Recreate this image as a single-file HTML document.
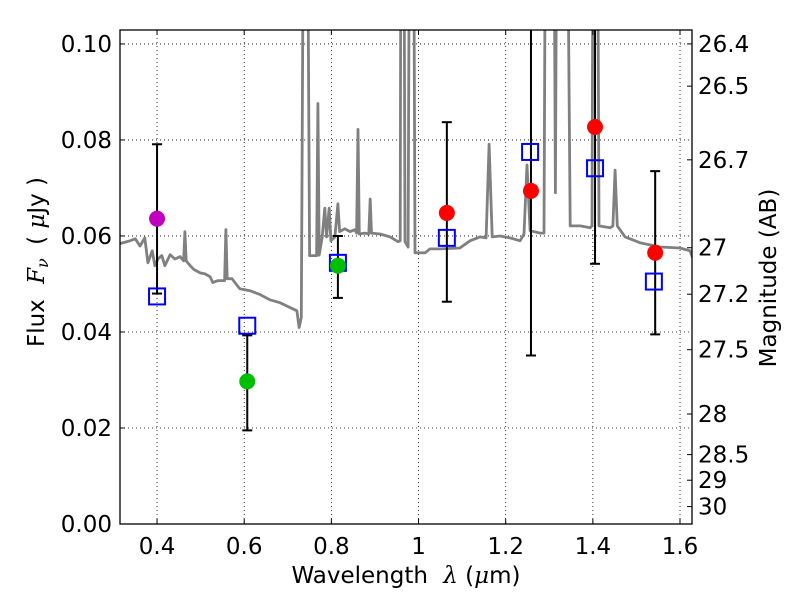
<!DOCTYPE html>
<html><head><meta charset="utf-8"><style>
html,body{margin:0;padding:0;background:#fff;}
svg text{font-family:"DejaVu Sans","Liberation Sans",sans-serif;fill:#000;}
</style></head><body>
<svg id="chart" width="800" height="600" xmlns="http://www.w3.org/2000/svg"></svg>
<script>
// ---- data ----
const specLambda=[0.315,0.338,0.350,0.361,0.372,0.379,0.389,0.395,0.402,0.411,0.418,0.430,0.441,0.453,0.461,0.464,0.467,0.476,0.485,0.499,0.510,0.522,0.528,0.540,0.549,0.555,0.558,0.561,0.572,0.590,0.613,0.636,0.659,0.682,0.705,0.721,0.726,0.731,0.737,0.744,0.750,0.763,0.766,0.769,0.772,0.779,0.785,0.789,0.795,0.799,0.808,0.815,0.819,0.831,0.843,0.854,0.858,0.861,0.864,0.877,0.886,0.889,0.892,0.912,0.935,0.953,0.958,0.960,0.966,0.969,0.976,0.980,0.988,0.992,0.999,1.015,1.026,1.049,1.095,1.118,1.141,1.155,1.162,1.169,1.187,1.210,1.233,1.242,1.249,1.256,1.279,1.288,1.292,1.310,1.314,1.318,1.340,1.348,1.371,1.394,1.398,1.401,1.410,1.414,1.440,1.446,1.451,1.456,1.474,1.508,1.554,1.600,1.623,1.630];
const specFlux=[0.0584,0.0590,0.0594,0.0579,0.0596,0.0544,0.0569,0.0538,0.0552,0.0559,0.0538,0.0561,0.0552,0.0557,0.0548,0.0609,0.0548,0.0538,0.0530,0.0523,0.0521,0.0515,0.0503,0.0507,0.0507,0.0507,0.0613,0.0511,0.0511,0.0490,0.0486,0.0478,0.0467,0.0461,0.0451,0.0444,0.0409,0.0430,0.15,0.15,0.0559,0.0559,0.0559,0.0876,0.0560,0.0598,0.0658,0.0598,0.0658,0.0590,0.0598,0.0667,0.0609,0.0615,0.0609,0.0613,0.0606,0.0822,0.0604,0.0606,0.0604,0.0677,0.0606,0.0604,0.0598,0.0588,0.0590,0.15,0.15,0.0588,0.0577,0.15,0.15,0.0565,0.0565,0.0565,0.0573,0.0573,0.0575,0.0590,0.0598,0.0596,0.0791,0.0598,0.0600,0.0596,0.0590,0.0604,0.0748,0.0611,0.0606,0.0606,0.15,0.15,0.0690,0.15,0.15,0.0621,0.0621,0.0617,0.0621,0.15,0.15,0.0621,0.0617,0.0621,0.0737,0.0621,0.0598,0.0586,0.0577,0.0575,0.0569,0.0552];
const photLambda=[0.400,0.607,0.815,1.065,1.258,1.405,1.543];
const photFlux=[0.0636,0.0297,0.0538,0.0648,0.0694,0.0827,0.0565];
const photLo=[0.0480,0.0195,0.0471,0.0463,0.0351,0.0542,0.0395];
const photHi=[0.0791,0.0393,0.0600,0.0837,0.15,0.15,0.0735];
const photColor=["#bf00bf","#00bf00","#00bf00","#ff0000","#ff0000","#ff0000","#ff0000"];
const modelLambda=[0.400,0.607,0.815,1.065,1.256,1.405,1.540];
const modelFlux=[0.0474,0.0413,0.0544,0.0596,0.0775,0.0741,0.0505];
const xTicks=[0.4,0.6,0.8,1.0,1.2,1.4,1.6];
const xTickLabels=["0.4","0.6","0.8","1","1.2","1.4","1.6"];
const yTicks=[0,0.02,0.04,0.06,0.08,0.10];
const yTickLabels=["0.00","0.02","0.04","0.06","0.08","0.10"];
const magTicks=[26.4,26.5,26.7,27,27.2,27.5,28,28.5,29,30];
const magTickLabels=["26.4","26.5","26.7","27","27.2","27.5","28","28.5","29","30"];

const L=120,R=692,T=30,B=524;
const xmin=0.315,xmax=1.6275,ymin=0,ymax=0.1029;
const X=v=>L+(v-xmin)/(xmax-xmin)*(R-L);
const Y=v=>B-(v-ymin)/(ymax-ymin)*(B-T);
const NS="http://www.w3.org/2000/svg";
const svg=document.getElementById('chart');
function mk(tag,attrs,parent){const e=document.createElementNS(NS,tag);for(const k in attrs)e.setAttribute(k,attrs[k]);(parent||svg).appendChild(e);return e;}

const defs=mk('defs',{});
const cp=mk('clipPath',{id:'clip'},defs);
mk('rect',{x:L,y:T,width:R-L,height:B-T},cp);

const grid=mk('g',{});


xTicks.forEach(t=>{mk('line',{x1:X(t),x2:X(t),y1:T,y2:B,stroke:'#000','stroke-width':0.8,'stroke-dasharray':'1,3'},grid);});
yTicks.forEach(t=>{mk('line',{x1:L,x2:R,y1:Y(t),y2:Y(t),stroke:'#000','stroke-width':0.8,'stroke-dasharray':'1,3'},grid);});

const plot=mk('g',{'clip-path':'url(#clip)'});
let d='';
specLambda.forEach((l,i)=>{d+=(i?'L':'M')+X(l).toFixed(1)+','+Y(specFlux[i]).toFixed(1);});
const spec=mk('path',{d:d,fill:'none',stroke:'#808080','stroke-width':2.8,'stroke-linejoin':'round'},plot);



photLambda.forEach((l,i)=>{
  const g=mk('g',{},plot);
  
  
  const x=X(l);
  mk('line',{x1:x,x2:x,y1:Y(photLo[i]),y2:Y(photHi[i]),stroke:'#000','stroke-width':2},g);
  mk('line',{x1:x-5,x2:x+5,y1:Y(photLo[i]),y2:Y(photLo[i]),stroke:'#000','stroke-width':2},g);
  mk('line',{x1:x-5,x2:x+5,y1:Y(photHi[i]),y2:Y(photHi[i]),stroke:'#000','stroke-width':2},g);
});
modelLambda.forEach((l,i)=>{
  const r=mk('rect',{x:X(l)-8,y:Y(modelFlux[i])-8,width:16,height:16,fill:'none',stroke:'#0000ff','stroke-width':2},plot);
  
  
});
photLambda.forEach((l,i)=>{
  const c=mk('circle',{cx:X(l),cy:Y(photFlux[i]),r:8,fill:photColor[i]},plot);
  
  
});

const fr=mk('rect',{x:L,y:T,width:R-L,height:B-T,fill:'none',stroke:'#000','stroke-width':1.3});



xTicks.forEach((t,i)=>{
  mk('line',{x1:X(t),x2:X(t),y1:B,y2:B-5,stroke:'#000'});
  mk('line',{x1:X(t),x2:X(t),y1:T,y2:T+5,stroke:'#000'});
  const tx=mk('text',{x:X(t),y:B+30,'text-anchor':'middle','font-size':23});
  tx.textContent=xTickLabels[i];
  
  
});
yTicks.forEach((t,i)=>{
  mk('line',{x1:L,x2:L+5,y1:Y(t),y2:Y(t),stroke:'#000'});
  const tx=mk('text',{x:L-8,y:Y(t)+8,'text-anchor':'end','font-size':23});
  tx.textContent=yTickLabels[i];
  
  
});
magTicks.forEach((m,i)=>{
  const f=Math.pow(10,(23.9-m)/2.5);
  const y=Y(f);
  mk('line',{x1:R,x2:R-5,y1:y,y2:y,stroke:'#000'});
  const tx=mk('text',{x:R+6,y:y+8,'text-anchor':'start','font-size':23});
  tx.textContent=magTickLabels[i];
  
  
});

const xt=mk('text',{x:406,y:583,'text-anchor':'middle','font-size':23});
xt.innerHTML='Wavelength  <tspan font-style="italic" font-family="DejaVu Serif, serif" dx="8">λ</tspan> (<tspan font-style="italic" font-family="DejaVu Serif, serif">μ</tspan>m)';


const yt=mk('text',{x:44,y:262,'text-anchor':'middle','font-size':23,transform:'rotate(-90 44 262)'});
yt.innerHTML='Flux <tspan font-style="italic" font-family="DejaVu Serif, serif" dx="8">F<tspan font-size="16" dy="4">ν</tspan></tspan><tspan dy="-4" dx="6"> ( </tspan><tspan font-style="italic" font-family="DejaVu Serif, serif">μ</tspan>Jy )';


const rt=mk('text',{x:776,y:278,'text-anchor':'middle','font-size':23,transform:'rotate(-90 776 278)'});
rt.textContent='Magnitude (AB)';


</script>
</body></html>
